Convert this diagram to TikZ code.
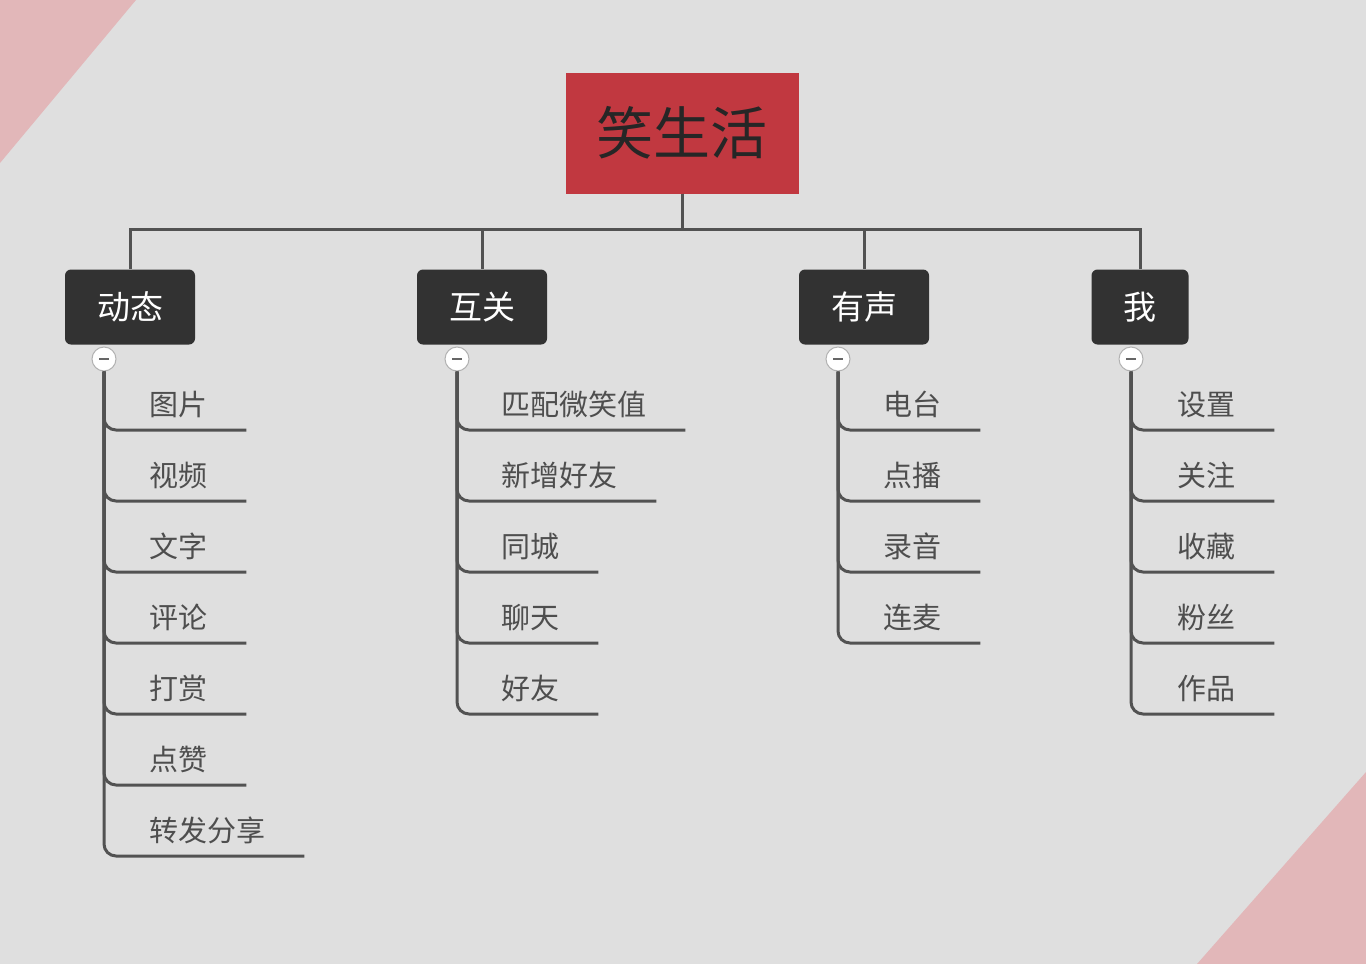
\documentclass[tikz,border=0pt]{standalone}
\usepackage{fontspec}
\usepackage{xcolor}
\usepackage{tikz}
\usetikzlibrary{calc}
\newfontfamily\cjk{Noto Sans CJK SC}
\definecolor{bggray}{RGB}{223,223,223}
\definecolor{cornerpink}{RGB}{226,183,185}
\definecolor{rootred}{RGB}{193,56,64}
\definecolor{topicdark}{RGB}{50,50,50}
\definecolor{linegray}{RGB}{82,82,82}
\definecolor{itemgray}{RGB}{78,78,78}
\tikzstyle{rootbox}=[fill=rootred,minimum width=233pt,minimum height=121pt,text=black!85,font=\cjk\fontsize{57}{57}\selectfont]
\tikzstyle{topic}=[fill=topicdark,rounded corners=6pt,minimum width=130pt,minimum height=75pt,text=white,font=\cjk\fontsize{33}{33}\selectfont]
\tikzstyle{fold}=[circle,draw=gray!60,fill=white,line width=1pt,minimum size=24pt,inner sep=0pt]
\tikzstyle{minusbar}=[draw=gray!80!black,line width=2.5pt]
\tikzstyle{item}=[anchor=base west,inner sep=0pt,text=itemgray,font=\cjk\fontsize{29}{29}\selectfont]
\tikzstyle{link}=[draw=linegray,line width=3pt]
\tikzstyle{branch}=[link,rounded corners=12pt]

\begin{document}
\begin{tikzpicture}[x=1pt,y=-1pt]
  \useasboundingbox (0,0) rectangle (1366,964);
  \fill[bggray] (0,0) rectangle (1366,964);
  \fill[cornerpink] (0,0) -- (136,0) -- (0,163) -- cycle;
  \fill[cornerpink] (1366,772) -- (1366,964) -- (1197,964) -- cycle;

  \node[rootbox] (root) at (682,133) {笑生活};
  \node[topic] (t1) at (130,307) {动态};
  \node[topic] (t2) at (482,307) {互关};
  \node[topic] (t3) at (864,307) {有声};
  \node[topic,minimum width=97pt] (t4) at (1140,307) {我};

  \draw[link] (root.south) -- ++(0,36) -| (t1.north);
  \draw[link] (root.south) -- ++(0,36) -| (t2.north);
  \draw[link] (root.south) -- ++(0,36) -| (t3.north);
  \draw[link] (root.south) -- ++(0,36) -| (t4.north);

  \node[fold] (f1) at (104,359) {};
  \node[fold] (f2) at (457,359) {};
  \node[fold] (f3) at (838,359) {};
  \node[fold] (f4) at (1131,359) {};
  \draw[minusbar] ($(f1)+(-5,0)$) -- ($(f1)+(5,0)$);
  \draw[minusbar] ($(f2)+(-5,0)$) -- ($(f2)+(5,0)$);
  \draw[minusbar] ($(f3)+(-5,0)$) -- ($(f3)+(5,0)$);
  \draw[minusbar] ($(f4)+(-5,0)$) -- ($(f4)+(5,0)$);

  % 动态
  \foreach \txt [count=\i] in {图片,视频,文字,评论,打赏,点赞,转发分享} {
    \node[item] (a\i) at (149,{344+71*\i}) {\txt};
    \draw[branch] (f1.south) |- ($(a\i.base east)+(39,15)$);
  }
  % 互关
  \foreach \txt [count=\i] in {匹配微笑值,新增好友,同城,聊天,好友} {
    \node[item] (b\i) at (501,{344+71*\i}) {\txt};
    \draw[branch] (f2.south) |- ($(b\i.base east)+(39,15)$);
  }
  % 有声
  \foreach \txt [count=\i] in {电台,点播,录音,连麦} {
    \node[item] (c\i) at (883,{344+71*\i}) {\txt};
    \draw[branch] (f3.south) |- ($(c\i.base east)+(39,15)$);
  }
  % 我
  \foreach \txt [count=\i] in {设置,关注,收藏,粉丝,作品} {
    \node[item] (d\i) at (1177,{344+71*\i}) {\txt};
    \draw[branch] (f4.south) |- ($(d\i.base east)+(39,15)$);
  }
\end{tikzpicture}
\end{document}
